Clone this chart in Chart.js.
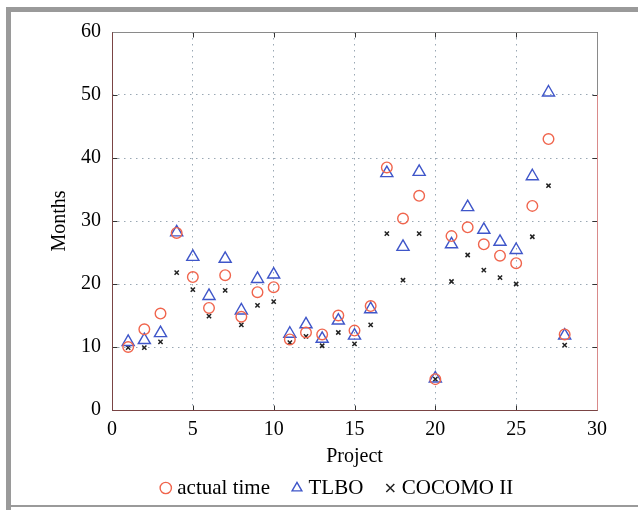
<!DOCTYPE html>
<html>
<head>
<meta charset="utf-8">
<script src="https://cdn.jsdelivr.net/npm/chart.js@4.4.0/dist/chart.umd.min.js"></script>
<style>
  body { margin: 0; background: #fff; }
  canvas { display: block; }
</style>
</head>
<body>
<canvas id="chart" width="638" height="510"></canvas>
<script>
// project numbers on the x axis
const projects = [1, 2, 3, 4, 5, 6, 7, 8, 9, 10, 11, 12, 13, 14, 15, 16, 17, 18, 19, 20, 21, 22, 23, 24, 25, 26, 27, 28];

// months
const actualTime = [10.0, 12.8, 15.3, 28.1, 21.1, 16.2, 21.4, 14.8, 18.7, 19.5, 11.2, 12.3, 12.0, 15.0,
                    12.6, 16.5, 38.5, 30.4, 34.0, 4.9, 27.6, 29.0, 26.3, 24.5, 23.3, 32.4, 43.0, 12.0];
const tlbo = [10.8, 11.1, 12.2, 28.2, 24.3, 18.1, 24.0, 15.8, 20.8, 21.5, 12.1, 13.6, 11.3, 14.2,
              11.8, 16.0, 37.6, 25.9, 37.8, 5.0, 26.3, 32.2, 28.6, 26.7, 25.4, 37.1, 50.4, 11.8];
const cocomo = [9.9, 9.9, 10.8, 21.8, 19.1, 14.9, 19.0, 13.5, 16.6, 17.2, 10.7, 11.7, 10.2, 12.3,
                10.5, 13.5, 28.0, 20.6, 28.0, 4.9, 20.4, 24.6, 22.2, 21.0, 20.0, 27.5, 35.6, 10.3];

const seriesLabels = ["actual time", "TLBO", "COCOMO II"];
const xTickRange = [0, 30, 5];
const yTickRange = [0, 60, 10];

const serif = "'Liberation Serif', 'Times New Roman', serif";

function toPoints(values) {
    return values.map((v, i) => ({ x: projects[i], y: v }));
}

function line(ctx, x1, y1, x2, y2) {
    ctx.beginPath();
    ctx.moveTo(x1, y1);
    ctx.lineTo(x2, y2);
    ctx.stroke();
}

// grey page frame, axes box and inward tick marks
const framePlugin = {
    id: "frame",
    beforeDraw(chart) {
        let ctx = chart.ctx;
        ctx.save();
        ctx.fillStyle = "#fff";
        ctx.fillRect(0, 0, chart.width, chart.height);
        ctx.fillStyle = "#9a9a9a";
        ctx.fillRect(6, 7, chart.width - 6, 5);
        ctx.fillRect(6, 7, 5, chart.height - 7);
        ctx.fillRect(6, 505, chart.width - 6, 2);
        ctx.restore();
    },
    beforeDatasetsDraw(chart) {
        let ctx = chart.ctx;
        let a = chart.chartArea;
        let xs = chart.scales.x;
        let ys = chart.scales.y;
        let l = Math.round(a.left) + 0.5, r = Math.round(a.right) + 0.5;
        let t = Math.round(a.top) + 0.5, b = Math.round(a.bottom) + 0.5;
        ctx.save();
        ctx.lineWidth = 1;
        ctx.strokeStyle = "#333";
        xs.ticks.forEach(tick => {
            let px = Math.round(xs.getPixelForValue(tick.value)) + 0.5;
            line(ctx, px, b, px, b - 5);
            line(ctx, px, t, px, t + 5);
        });
        ys.ticks.forEach(tick => {
            let py = Math.round(ys.getPixelForValue(tick.value)) + 0.5;
            line(ctx, l, py, l + 5, py);
            line(ctx, r, py, r - 5, py);
        });
        ctx.strokeStyle = "#8a8a8a";
        line(ctx, l, t, r, t);
        line(ctx, r, t, r, 95);
        ctx.strokeStyle = "#d98a8a";
        line(ctx, r, 95, r, b);
        ctx.strokeStyle = "#7a4444";
        line(ctx, l, t, l, b);
        line(ctx, l, b, r, b);
        ctx.restore();
    }
};

new Chart(document.getElementById("chart"), {
    type: "scatter",
    data: {
        datasets: [
            {
                label: seriesLabels[0],
                data: toPoints(actualTime),
                pointStyle: "circle",
                pointRadius: 5.3,
                borderWidth: 1.4,
                borderColor: "#f0654d",
                backgroundColor: "rgba(0,0,0,0)"
            },
            {
                label: seriesLabels[1],
                data: toPoints(tlbo),
                pointStyle: "triangle",
                pointRadius: 7,
                borderWidth: 1.4,
                borderColor: "#3f56c9",
                backgroundColor: "rgba(0,0,0,0)"
            },
            {
                label: seriesLabels[2],
                data: toPoints(cocomo),
                pointStyle: "crossRot",
                pointRadius: 3,
                borderWidth: 1.5,
                borderColor: "#222",
                backgroundColor: "rgba(0,0,0,0)"
            }
        ]
    },
    options: {
        responsive: false,
        animation: false,
        events: [],
        layout: { padding: { left: 81, right: 41, top: 32, bottom: 1.5 } },
        plugins: {
            tooltip: { enabled: false },
            legend: {
                position: "bottom",
                labels: {
                    usePointStyle: true,
                    boxWidth: 2,
                    boxHeight: 8,
                    padding: 26,
                    color: "#000",
                    font: { family: serif, size: 21 }
                }
            }
        },
        scales: {
            x: {
                type: "linear",
                min: xTickRange[0],
                max: xTickRange[1],
                afterFit: s => { s.height = 41.5; },
                ticks: { stepSize: xTickRange[2], padding: 8, color: "#000", font: { family: serif, size: 20 } },
                grid: { color: "#9aa8b4", lineWidth: 1, drawTicks: false },
                border: { display: false, dash: [1.5, 4.5] },
                title: {
                    display: true,
                    text: "Project",
                    color: "#000",
                    font: { family: serif, size: 20 },
                    padding: { top: 0, bottom: -17.5 }
                }
            },
            y: {
                type: "linear",
                min: yTickRange[0],
                max: yTickRange[1],
                afterFit: s => { s.width = 31; },
                ticks: { stepSize: yTickRange[2], padding: 11, color: "#000", font: { family: serif, size: 20 } },
                grid: { color: "#9aa8b4", lineWidth: 1, drawTicks: false },
                border: { display: false, dash: [1.5, 4.5] },
                title: {
                    display: true,
                    text: "Months",
                    color: "#000",
                    font: { family: serif, size: 20 },
                    padding: { top: -33, bottom: 0 }
                }
            }
        }
    },
    plugins: [framePlugin]
});
</script>
</body>
</html>
